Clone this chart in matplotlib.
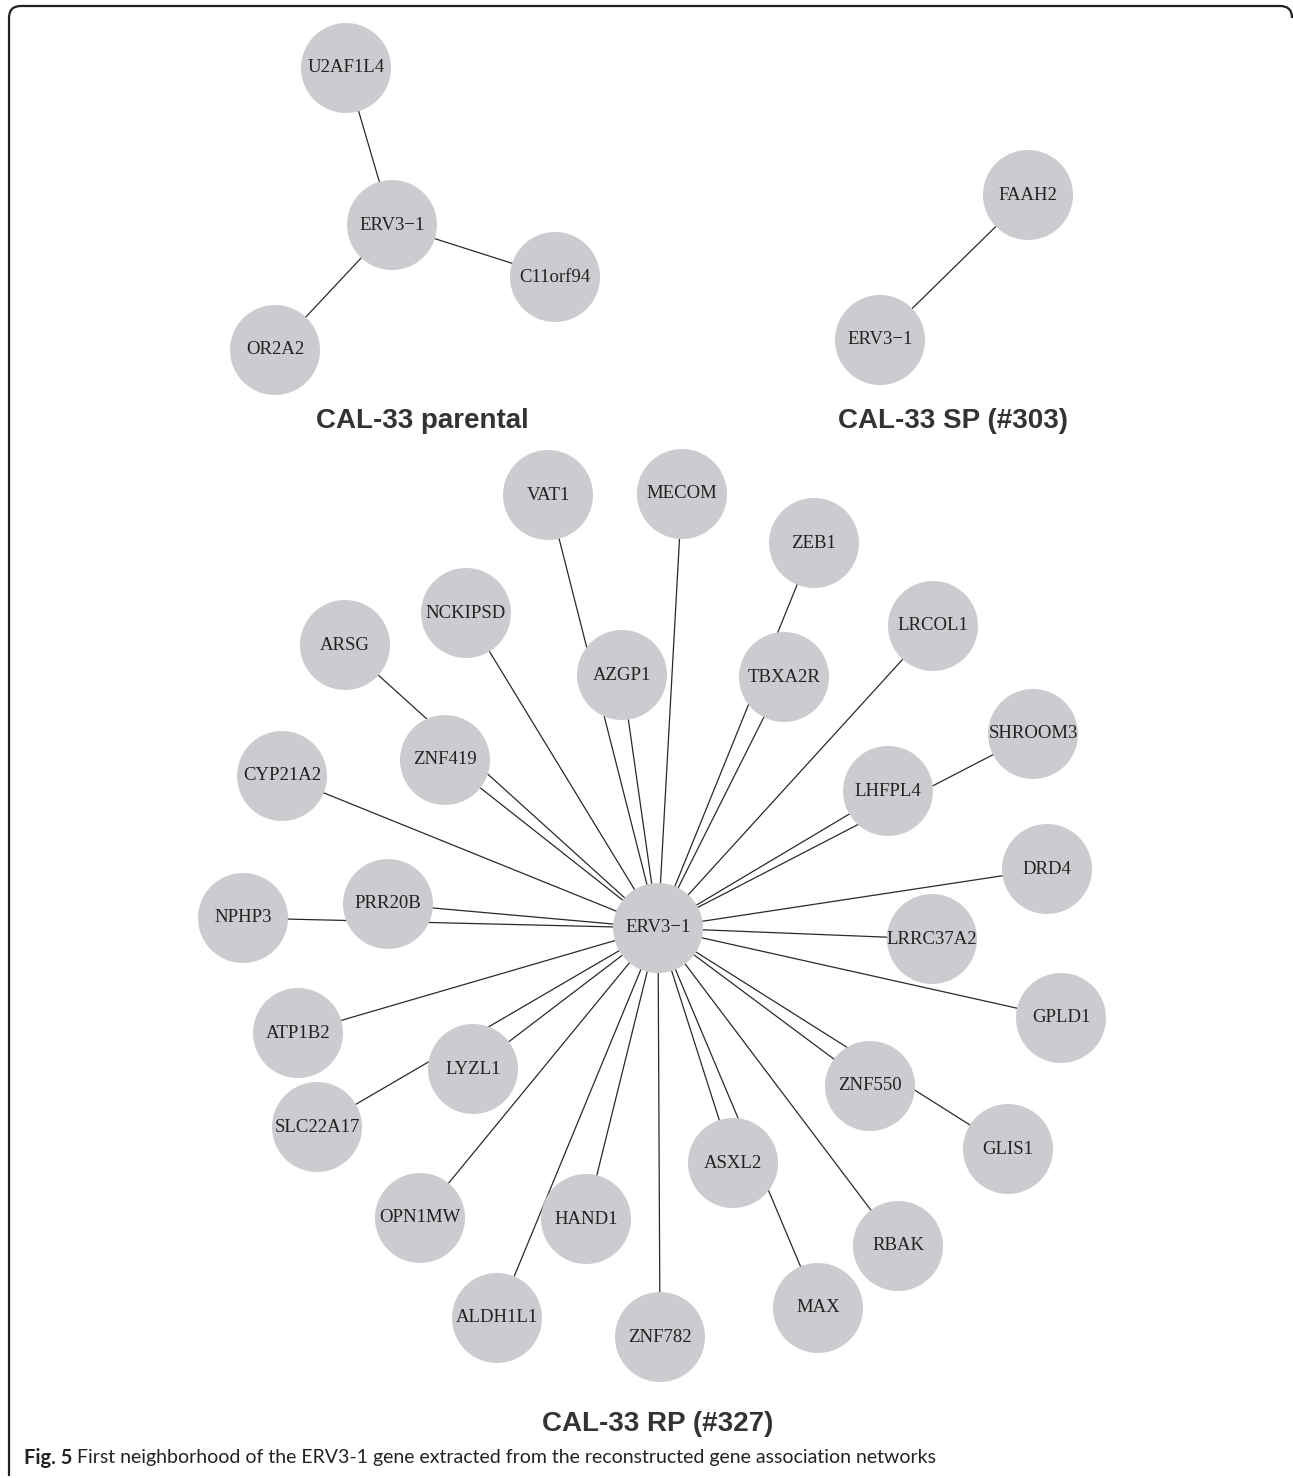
import matplotlib
matplotlib.use("Agg")
import matplotlib.pyplot as plt
from matplotlib.patches import Circle, PathPatch
from matplotlib.path import Path

# Network data: node names and layout positions (image pixels)
hub = "ERV3\u22121"

parental_nodes = ["U2AF1L4", "C11orf94", "OR2A2"]
parental_x = [346, 555, 275]
parental_y = [68, 277, 350]
parental_hub = (392, 225)

sp_nodes = ["FAAH2"]
sp_x = [1028]
sp_y = [195]
sp_hub = (880, 340)

rp_nodes = ["VAT1", "MECOM", "ZEB1", "NCKIPSD", "ARSG", "AZGP1", "TBXA2R",
            "LRCOL1", "SHROOM3", "ZNF419", "CYP21A2", "LHFPL4", "DRD4",
            "NPHP3", "PRR20B", "LRRC37A2", "ATP1B2", "GPLD1", "LYZL1",
            "ZNF550", "SLC22A17", "GLIS1", "ASXL2", "OPN1MW", "HAND1",
            "RBAK", "MAX", "ALDH1L1", "ZNF782"]
rp_x = [548, 682, 814, 466, 345, 622, 784,
        933, 1033, 445, 282, 888, 1047,
        243, 388, 932, 298, 1061, 473,
        870, 317, 1008, 733, 420, 586,
        898, 818, 497, 660]
rp_y = [495, 494, 543, 613, 645, 675, 677,
        626, 734, 760, 776, 791, 869,
        918, 904, 939, 1033, 1018, 1069,
        1086, 1127, 1149, 1163, 1218, 1219,
        1246, 1308, 1318, 1337]
rp_hub = (658, 928)

titles = ["CAL-33 parental", "CAL-33 SP (#303)", "CAL-33 RP (#327)"]
caption_bold = "Fig. 5"
caption = "First neighborhood of the ERV3-1 gene extracted from the reconstructed gene association networks"

W, H = 1293, 1478
R = 45
node_col = "#cbcccf"

fig = plt.figure(figsize=(W / 100, H / 100), dpi=100)
ax = fig.add_axes([0, 0, 1, 1])
ax.set_xlim(0, W)
ax.set_ylim(H, 0)
ax.axis("off")


def draw_star(hxy, names, xs, ys):
    for x, y in zip(xs, ys):
        ax.plot([hxy[0], x], [hxy[1], y], color="#2a2a2a", lw=0.9, zorder=1)
    for n, x, y in zip(names + [hub], xs + [hxy[0]], ys + [hxy[1]]):
        ax.add_patch(Circle((x, y), R, facecolor=node_col, edgecolor="none", zorder=2))
        ax.text(x, y, n, ha="center", va="center", fontsize=13.5,
                family="Liberation Serif", color="#222222", zorder=3)


draw_star(parental_hub, parental_nodes, parental_x, parental_y)
draw_star(sp_hub, sp_nodes, sp_x, sp_y)
draw_star(rp_hub, rp_nodes, rp_x, rp_y)

tkw = dict(ha="center", va="center", fontsize=20, fontweight="bold",
           family="Liberation Sans", color="#333333")
ax.text(422, 421, titles[0], **tkw)
ax.text(953, 421, titles[1], **tkw)
ax.text(658, 1424, titles[2], **tkw)

# caption
renderer = fig.canvas.get_renderer()
fb = ax.text(24, 1458, caption_bold, ha="left", va="center", fontsize=14.5,
             fontweight="bold", family="Lato", color="#222222")
bb = fb.get_window_extent(renderer)
ax.text(bb.x1 + 5, 1458, caption, ha="left", va="center", fontsize=14,
        family="Lato", color="#222222")

# frame: top edge and left edge with rounded corners
r = 12
verts = [(9, 1476), (9, 6 + r), (9, 6), (9 + r, 6), (1280, 6), (1292, 6), (1292, 6 + r)]
codes = [Path.MOVETO, Path.LINETO, Path.CURVE3, Path.CURVE3, Path.LINETO, Path.CURVE3, Path.CURVE3]
ax.add_patch(PathPatch(Path(verts, codes), facecolor="none", edgecolor="#222222", lw=1.6))

fig.savefig("out.png", dpi=100)
